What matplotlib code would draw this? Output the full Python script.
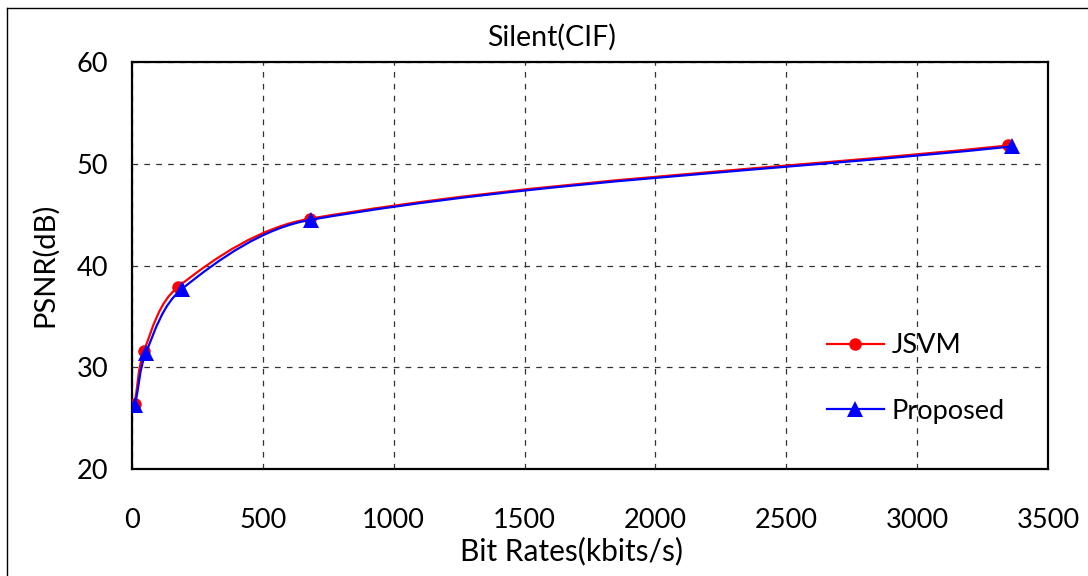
import numpy as np
import matplotlib
matplotlib.use("Agg")
import matplotlib.pyplot as plt
from matplotlib.path import Path
from matplotlib.patches import PathPatch
from matplotlib.lines import Line2D

plt.rcParams['font.family'] = ['Lato', 'DejaVu Sans']

# Дані
bitrate_jsvm = [10, 46, 176, 680, 3348]
psnr_jsvm = [26.4, 31.6, 37.9, 44.6, 51.8]
bitrate_proposed = [12, 53, 191, 684, 3362]
psnr_proposed = [26.3, 31.4, 37.7, 44.5, 51.7]

x_ticks = [0, 500, 1000, 1500, 2000, 2500, 3000, 3500]
y_ticks = [20, 30, 40, 50, 60]

# масштаб осей у пікселях (для згладжування лінії як в Excel)
AX_W, AX_H = 916, 407
X_MAX, Y_MIN, Y_MAX = 3500, 20, 60


def smooth_path(xs, ys):
    sx = AX_W / X_MAX
    sy = AX_H / (Y_MAX - Y_MIN)
    pts = np.column_stack([np.asarray(xs) * sx, np.asarray(ys) * sy]).astype(float)
    n = len(pts)
    tang = []
    for i in range(n):
        a = pts[max(i - 1, 0)]
        b = pts[min(i + 1, n - 1)]
        d = b - a
        tang.append(d / np.hypot(*d))
    verts = [pts[0]]
    codes = [Path.MOVETO]
    for i in range(n - 1):
        p1, p2 = pts[i], pts[i + 1]
        L = np.hypot(*(p2 - p1))
        c1 = p1 + tang[i] * L / 3.0
        c2 = p2 - tang[i + 1] * L / 3.0
        verts += [c1, c2, p2]
        codes += [Path.CURVE4] * 3
    verts = np.array(verts) / np.array([sx, sy])
    return Path(verts, codes)


fig = plt.figure(figsize=(10.88, 5.76), dpi=100)
ax = fig.add_axes([132 / 1088, 1 - 469 / 576, AX_W / 1088, AX_H / 576])

# рамка діаграми
fig.add_artist(Line2D([7 / 1088, 7 / 1088], [0, 1 - 8 / 576], color='black', lw=1.0, transform=fig.transFigure))
fig.add_artist(Line2D([7 / 1088, 1], [1 - 8 / 576, 1 - 8 / 576], color='black', lw=1.0, transform=fig.transFigure))

series = [
    (bitrate_jsvm, psnr_jsvm, 'red', 'o', 9, 'JSVM'),
    (bitrate_proposed, psnr_proposed, 'blue', '^', 11, 'Proposed'),
]
handles = []
for i, (xs, ys, col, mk, ms, lab) in enumerate(series):
    patch = PathPatch(smooth_path(xs, ys), facecolor='none', edgecolor=col, lw=1.6,
                      transform=ax.transData, zorder=3 + 2 * i)
    ax.add_patch(patch)
    ax.plot(xs, ys, linestyle='none', marker=mk, markersize=ms, color=col,
            markeredgewidth=0, zorder=4 + 2 * i)
    handles.append(Line2D([], [], color=col, lw=1.6, marker=mk, markersize=ms,
                          markeredgewidth=0, label=lab))

ax.set_xlim(0, X_MAX)
ax.set_ylim(Y_MIN, Y_MAX)
ax.set_xticks(x_ticks)
ax.set_yticks(y_ticks)
ax.tick_params(length=0, labelsize=19.5, colors='black')
ax.tick_params(axis='x', pad=28)
ax.tick_params(axis='y', pad=17)
ax.grid(True, color='#333333', linestyle=(0, (4.5, 5)), lw=0.9)
ax.set_axisbelow(True)
for s in ax.spines.values():
    s.set_linewidth(1.6)
    s.set_color('black')

fig.text(552 / 1088, 1 - 37 / 576, 'Silent(CIF)', ha='center', va='center', fontsize=20.5)
fig.text(571 / 1088, 1 - 551 / 576, 'Bit Rates(kbits/s)', ha='center', va='center', fontsize=21.5)
fig.text(45 / 1088, 1 - 265 / 576, 'PSNR(dB)', ha='center', va='center', fontsize=21, rotation=90)

ax.legend(handles=handles, loc='center left', frameon=False, fontsize=19.5,
          bbox_to_anchor=(827 / 1088, 1 - 378.5 / 576), bbox_transform=fig.transFigure,
          borderpad=0, borderaxespad=0, handlelength=2.1, handletextpad=0.3,
          labelspacing=1.5)

fig.savefig('out.png', dpi=100)
